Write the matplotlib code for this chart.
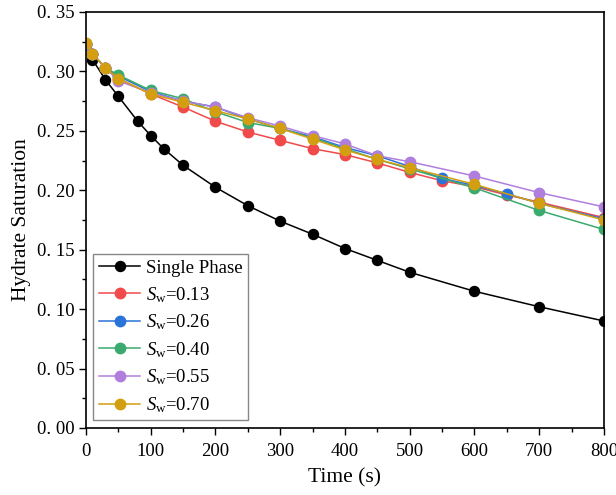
import numpy as np
import matplotlib
matplotlib.use('Agg')
import matplotlib.pyplot as plt
from matplotlib.ticker import MultipleLocator, FuncFormatter

plt.rcParams['font.family'] = ['Liberation Serif', 'DejaVu Serif']
plt.rcParams['mathtext.fontset'] = 'custom'
plt.rcParams['mathtext.rm'] = 'Liberation Serif'
plt.rcParams['mathtext.it'] = 'Liberation Serif:italic'

# single phase
t_single = [0, 10, 30, 50, 80, 100, 120, 150, 200, 250, 300, 350, 400, 450, 500, 600, 700, 800]
s_single = [0.323, 0.310, 0.293, 0.279, 0.258, 0.246, 0.235, 0.221, 0.2025, 0.187, 0.174,
            0.163, 0.151, 0.141, 0.131, 0.115, 0.102, 0.090]

# two phase, different water saturations
t_long = [0, 10, 30, 50, 100, 150, 200, 250, 300, 350, 400, 450, 500, 550, 600, 650, 700, 800]
t_short = [0, 10, 30, 50, 100, 150, 200, 250, 300, 350, 400, 450, 500, 600, 700, 800]

s_013 = [0.323, 0.315, 0.303, 0.294, 0.281, 0.270, 0.258, 0.249, 0.242, 0.235, 0.230,
         0.223, 0.215, 0.208, 0.203, 0.196, 0.190, 0.177]
s_026 = [0.323, 0.315, 0.303, 0.296, 0.283, 0.275, 0.270, 0.260, 0.252, 0.245, 0.236,
         0.229, 0.220, 0.210, 0.204, 0.197, 0.189, 0.176]
s_040 = [0.323, 0.315, 0.303, 0.297, 0.284, 0.277, 0.266, 0.257, 0.252, 0.244, 0.235,
         0.226, 0.218, 0.202, 0.183, 0.167]
s_055 = [0.323, 0.315, 0.303, 0.292, 0.282, 0.275, 0.270, 0.261, 0.254, 0.246, 0.239,
         0.229, 0.224, 0.212, 0.198, 0.186]
s_070 = [0.324, 0.315, 0.303, 0.294, 0.281, 0.274, 0.267, 0.260, 0.252, 0.243, 0.234,
         0.226, 0.219, 0.205, 0.189, 0.175]

series = [
    (t_long, s_013, '#F04A4A', r'$S_{\mathrm{w}}$=0.13'),
    (t_long, s_026, '#2A73D8', r'$S_{\mathrm{w}}$=0.26'),
    (t_short, s_040, '#3BAA6E', r'$S_{\mathrm{w}}$=0.40'),
    (t_short, s_055, '#B07FDD', r'$S_{\mathrm{w}}$=0.55'),
    (t_short, s_070, '#D39F10', r'$S_{\mathrm{w}}$=0.70'),
]

fig = plt.figure(figsize=(6.16, 4.95), dpi=100)
ax = fig.add_axes([0.1396, 0.1354, 0.8409, 0.8404])

ax.plot(t_single, s_single, '-o', color='black', lw=1.1, ms=7.2, label='Single Phase')
for t, s, c, lab in series:
    ax.plot(t, s, '-o', color=c, lw=1.1, ms=7.5, label=lab)

ax.set_xlim(0, 800)
ax.set_ylim(0, 0.35)
ax.xaxis.set_major_locator(MultipleLocator(100))
ax.xaxis.set_minor_locator(MultipleLocator(50))
ax.yaxis.set_major_locator(MultipleLocator(0.05))
ax.yaxis.set_minor_locator(MultipleLocator(0.025))
ax.yaxis.set_major_formatter(FuncFormatter(lambda v, p: f"{v:.2f}".replace('.', '. ')))
ax.tick_params(which='both', direction='out', top=False, right=False, labelsize=13.5)
ax.tick_params(axis='x', pad=6)
ax.tick_params(which='major', length=5, width=1)
ax.tick_params(which='minor', length=3, width=1)
for sp in ax.spines.values():
    sp.set_linewidth(1.2)

ax.set_xlabel('Time (s)', fontsize=15.5, labelpad=6)
ax.set_ylabel('Hydrate Saturation', fontsize=15.5)

leg = ax.legend(loc='lower left', fontsize=13.5, handlelength=2.2, fancybox=False,
                framealpha=1, edgecolor='#888888', borderaxespad=0.4,
                labelspacing=0.42, handletextpad=0.3, borderpad=0.3)
leg.get_frame().set_linewidth(1.0)

plt.savefig('out.png', dpi=100)
